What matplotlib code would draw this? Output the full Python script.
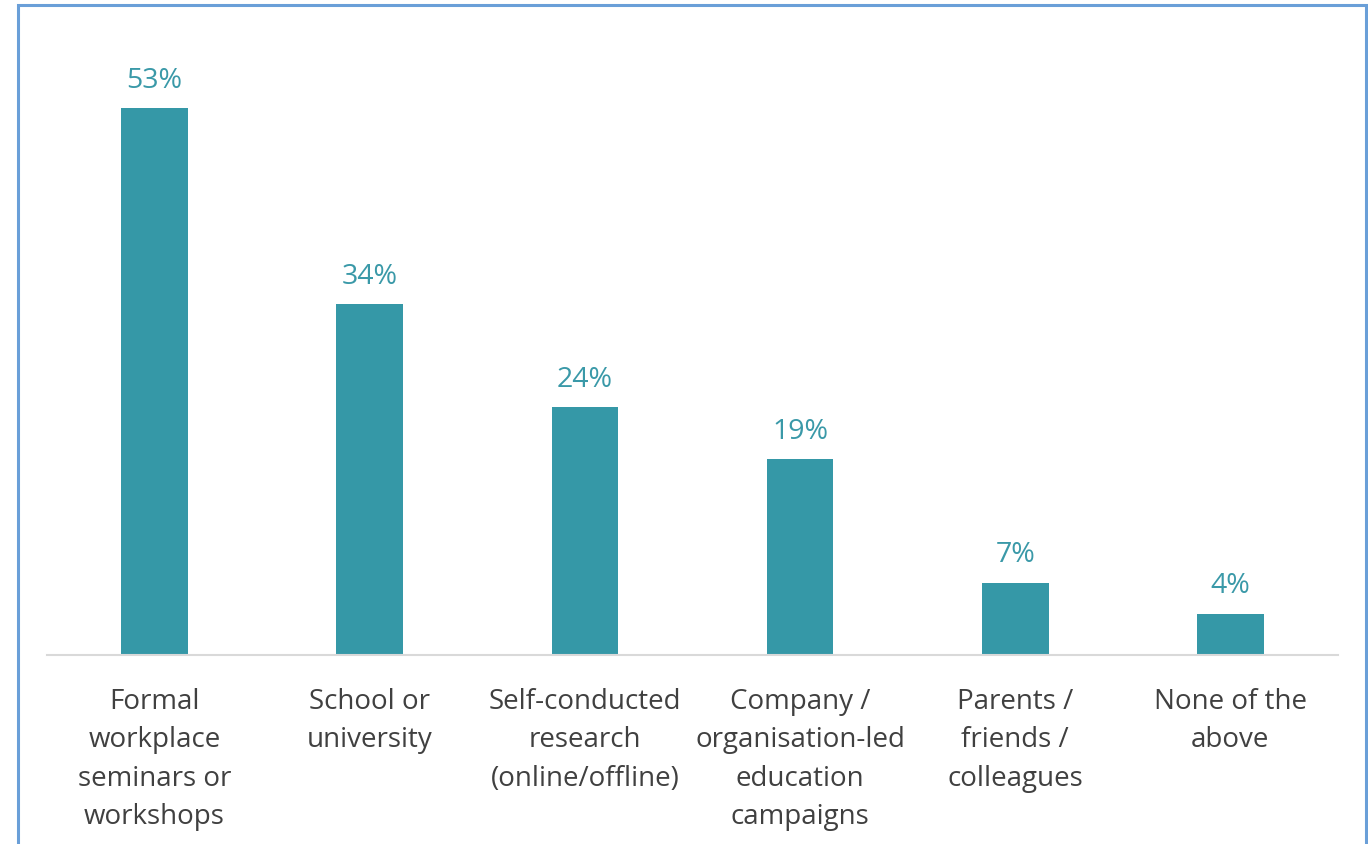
import matplotlib.pyplot as plt
from matplotlib.patches import Rectangle

categories = ["Formal\nworkplace\nseminars or\nworkshops", "School or\nuniversity",
              "Self-conducted\nresearch\n(online/offline)", "Company /\norganisation-led\neducation\ncampaigns",
              "Parents /\nfriends /\ncolleagues", "None of the\nabove"]
values = [53, 34, 24, 19, 7, 4]

plt.rcParams['font.family'] = ['Open Sans', 'DejaVu Sans']

fig = plt.figure(figsize=(13.68, 8.45), dpi=100)
W, H = 1368, 845
ax = fig.add_axes([47/W, (845-656)/H, (1338-47)/W, (656-37)/H])

x = range(len(values))
bars = ax.bar(x, values, width=0.31, color='#3598a7')
for i, v in enumerate(values):
    ax.text(i, v + 1.4, f"{v}%", ha='center', va='bottom', color='#3a99a8', fontsize=20.5)

ax.set_xlim(-0.5, 5.5)
ax.set_ylim(0, 60)
ax.set_yticks([])
ax.set_xticks(list(x))
ax.set_xticklabels(categories, fontsize=20, color='#404040', linespacing=1.5)
ax.tick_params(axis='x', length=0, pad=23)
for s in ['top', 'right', 'left']:
    ax.spines[s].set_visible(False)
ax.spines['bottom'].set_color('#d9d9d9')
ax.spines['bottom'].set_linewidth(1.5)

fig.patches.append(Rectangle((18/W, -0.05), (1366-18)/W, 1.05 - 6/H, transform=fig.transFigure,
                             fill=False, edgecolor='#6a9fd8', linewidth=2.2))

fig.savefig("out.png", dpi=100)
